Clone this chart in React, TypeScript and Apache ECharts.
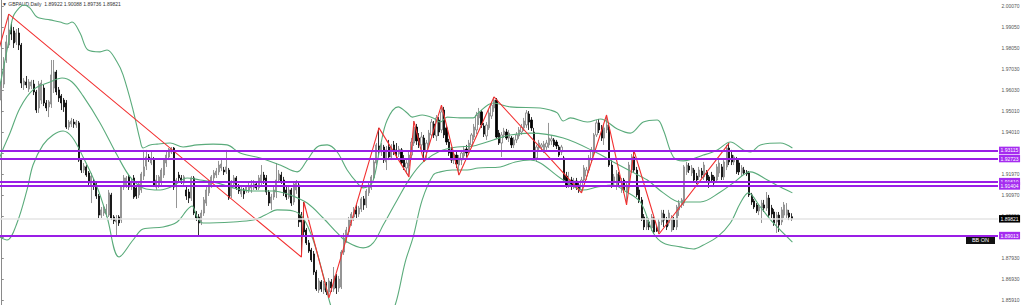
import React, { useEffect, useRef } from 'react';
import * as echarts from 'echarts';

const titleText = '▼ GBPAUD,Daily  1.89922 1.90088 1.89736 1.89821';
const yTicks = [2.0007, 1.9905, 1.9805, 1.9703, 1.9603, 1.9501, 1.9401, 1.9299, 1.9197, 1.9097, 1.8995, 1.8893, 1.8793, 1.8693, 1.8591];
// tick labels that are not hidden behind the price tags
const yTickLabels = [2.0007, 1.9905, 1.9805, 1.9703, 1.9603, 1.9501, 1.9401, 1.9197, 1.9097, 1.8995, 1.8793, 1.8693, 1.8591];
const levels = [1.93115, 1.92723, 1.9161, 1.91404, 1.89013];
const currentPrice = 1.89821;
const SLOTS = 399;

// [open, close, low, high]
const ohlc: number[][] = [
  [1.9554,1.9641,1.9492,1.9675], // 0
  [1.9631,1.9737,1.9612,1.9761],
  [1.9747,1.9834,1.9733,1.9867],
  [1.9819,1.9891,1.9805,1.9968],
  [1.9891,1.9872,1.9843,1.9930],
  [1.9887,1.9829,1.9805,1.9906], // 5
  [1.9834,1.9877,1.9819,1.9896],
  [1.9877,1.9819,1.9795,1.9901],
  [1.9819,1.9636,1.9612,1.9829],
  [1.9627,1.9646,1.9603,1.9660],
  [1.9641,1.9627,1.9612,1.9670], // 10
  [1.9607,1.9641,1.9593,1.9655],
  [1.9622,1.9641,1.9607,1.9651],
  [1.9631,1.9593,1.9578,1.9651],
  [1.9593,1.9506,1.9492,1.9603],
  [1.9516,1.9631,1.9492,1.9646], // 15
  [1.9554,1.9636,1.9535,1.9651],
  [1.9612,1.9540,1.9525,1.9627],
  [1.9540,1.9516,1.9501,1.9554],
  [1.9521,1.9545,1.9472,1.9554],
  [1.9535,1.9675,1.9516,1.9747], // 20
  [1.9612,1.9689,1.9588,1.9747],
  [1.9689,1.9593,1.9578,1.9699],
  [1.9603,1.9564,1.9545,1.9617],
  [1.9574,1.9540,1.9506,1.9583],
  [1.9554,1.9521,1.9497,1.9564], // 25
  [1.9540,1.9424,1.9415,1.9554],
  [1.9424,1.9448,1.9410,1.9458],
  [1.9439,1.9453,1.9424,1.9468],
  [1.9448,1.9439,1.9420,1.9463],
  [1.9434,1.9448,1.9420,1.9458], // 30
  [1.9444,1.9265,1.9256,1.9453],
  [1.9265,1.9217,1.9203,1.9275],
  [1.9217,1.9236,1.9203,1.9251],
  [1.9232,1.9193,1.9184,1.9241],
  [1.9203,1.9155,1.9140,1.9212], // 35
  [1.9145,1.9188,1.9058,1.9203],
  [1.9164,1.9140,1.9121,1.9174],
  [1.9150,1.9092,1.9078,1.9159],
  [1.9092,1.9000,1.8986,1.9102],
  [1.9000,1.9025,1.8986,1.9039], // 40
  [1.9010,1.9039,1.8996,1.9049],
  [1.9005,1.9029,1.8991,1.9053],
  [1.9000,1.9107,1.8991,1.9121],
  [1.9097,1.8986,1.8976,1.9107],
  [1.8991,1.8972,1.8957,1.9000], // 45
  [1.8967,1.8981,1.8895,1.9000],
  [1.8991,1.8962,1.8948,1.9000],
  [1.8976,1.9135,1.8962,1.9145],
  [1.9135,1.9179,1.9121,1.9193],
  [1.9145,1.9179,1.9131,1.9188], // 50
  [1.9184,1.9135,1.9121,1.9193],
  [1.9140,1.9159,1.9121,1.9179],
  [1.9179,1.9087,1.9078,1.9193],
  [1.9131,1.9092,1.9078,1.9145],
  [1.9097,1.9150,1.9082,1.9159], // 55
  [1.9121,1.9198,1.9107,1.9208],
  [1.9188,1.9232,1.9169,1.9314],
  [1.9236,1.9280,1.9217,1.9314],
  [1.9280,1.9275,1.9256,1.9294],
  [1.9251,1.9275,1.9241,1.9304], // 60
  [1.9265,1.9145,1.9135,1.9280],
  [1.9135,1.9169,1.9121,1.9193],
  [1.9145,1.9184,1.9131,1.9193],
  [1.9159,1.9217,1.9145,1.9227],
  [1.9193,1.9265,1.9179,1.9275], // 65
  [1.9251,1.9289,1.9232,1.9304],
  [1.9280,1.9318,1.9265,1.9323],
  [1.9304,1.9323,1.9294,1.9328],
  [1.9323,1.9135,1.9121,1.9328],
  [1.9145,1.9169,1.9034,1.9179], // 70
  [1.9193,1.9179,1.9159,1.9208],
  [1.9179,1.9169,1.9150,1.9193],
  [1.9155,1.9184,1.9140,1.9193],
  [1.9121,1.9092,1.9073,1.9140],
  [1.9111,1.9082,1.9058,1.9126], // 75
  [1.9082,1.9179,1.9068,1.9188],
  [1.9179,1.9010,1.9000,1.9188],
  [1.9010,1.8986,1.8972,1.9020],
  [1.8991,1.8962,1.8904,1.9005],
  [1.8962,1.9010,1.8952,1.9025], // 80
  [1.9010,1.9073,1.8996,1.9087],
  [1.9058,1.9121,1.9044,1.9135],
  [1.9107,1.9155,1.9092,1.9169],
  [1.9145,1.9184,1.9131,1.9193],
  [1.9179,1.9203,1.9164,1.9217], // 85
  [1.9193,1.9212,1.9179,1.9227],
  [1.9208,1.9241,1.9193,1.9261],
  [1.9227,1.9246,1.9212,1.9265],
  [1.9217,1.9208,1.9193,1.9232],
  [1.9208,1.9232,1.9198,1.9314], // 90
  [1.9217,1.9082,1.9073,1.9227],
  [1.9092,1.9159,1.9082,1.9169],
  [1.9150,1.9179,1.9140,1.9193],
  [1.9179,1.9131,1.9121,1.9188],
  [1.9140,1.9116,1.9102,1.9150], // 95
  [1.9102,1.9121,1.9087,1.9145],
  [1.9121,1.9102,1.9078,1.9131],
  [1.9116,1.9135,1.9107,1.9145],
  [1.9121,1.9140,1.9107,1.9155],
  [1.9131,1.9145,1.9107,1.9169], // 100
  [1.9131,1.9150,1.9121,1.9169],
  [1.9150,1.9131,1.9121,1.9159],
  [1.9131,1.9179,1.9121,1.9193],
  [1.9159,1.9193,1.9145,1.9241],
  [1.9193,1.9169,1.9150,1.9208], // 105
  [1.9179,1.9111,1.9097,1.9193],
  [1.9111,1.9058,1.9044,1.9121],
  [1.9058,1.9087,1.9025,1.9102],
  [1.9087,1.9121,1.9073,1.9140],
  [1.9111,1.9169,1.9082,1.9251], // 110
  [1.9169,1.9198,1.9155,1.9217],
  [1.9193,1.9164,1.9150,1.9208],
  [1.9169,1.9107,1.9092,1.9184],
  [1.9121,1.9087,1.9073,1.9140],
  [1.9087,1.9121,1.9078,1.9135], // 115
  [1.9121,1.9058,1.9044,1.9131],
  [1.9063,1.9150,1.9049,1.9164],
  [1.9121,1.9155,1.9102,1.9169],
  [1.9145,1.8967,1.8943,1.9155],
  [1.9000,1.8967,1.8798,1.9015], // 120
  [1.8976,1.8919,1.8904,1.9063],
  [1.8928,1.8866,1.8856,1.8938],
  [1.8866,1.8827,1.8818,1.8880],
  [1.8832,1.8784,1.8774,1.8842],
  [1.8813,1.8726,1.8712,1.8827], // 125
  [1.8726,1.8644,1.8635,1.8736],
  [1.8639,1.8683,1.8625,1.8697],
  [1.8678,1.8644,1.8630,1.8687],
  [1.8639,1.8668,1.8620,1.8683],
  [1.8668,1.8630,1.8615,1.8678], // 130
  [1.8630,1.8683,1.8601,1.8697],
  [1.8678,1.8649,1.8630,1.8692],
  [1.8644,1.8707,1.8630,1.8750],
  [1.8707,1.8649,1.8620,1.8716],
  [1.8649,1.8692,1.8630,1.8707], // 135
  [1.8654,1.8822,1.8644,1.8832],
  [1.8822,1.8890,1.8808,1.8914],
  [1.8880,1.8928,1.8866,1.8943],
  [1.8919,1.8976,1.8904,1.8991],
  [1.8962,1.9005,1.8948,1.9015], // 140
  [1.8991,1.9025,1.8972,1.9039],
  [1.9025,1.9005,1.8986,1.9049],
  [1.9005,1.9034,1.8991,1.9044],
  [1.9029,1.9078,1.9015,1.9087],
  [1.9078,1.9049,1.9025,1.9092], // 145
  [1.9049,1.9116,1.9034,1.9126],
  [1.9107,1.9145,1.9092,1.9155],
  [1.9131,1.9184,1.9121,1.9193],
  [1.9179,1.9256,1.9169,1.9265],
  [1.9251,1.9338,1.9241,1.9347], // 150
  [1.9333,1.9304,1.9289,1.9420],
  [1.9304,1.9333,1.9285,1.9347],
  [1.9328,1.9265,1.9251,1.9338],
  [1.9256,1.9314,1.9217,1.9333],
  [1.9328,1.9280,1.9265,1.9362], // 155
  [1.9280,1.9328,1.9265,1.9342],
  [1.9338,1.9304,1.9289,1.9357],
  [1.9314,1.9294,1.9275,1.9347],
  [1.9294,1.9318,1.9280,1.9333],
  [1.9314,1.9251,1.9241,1.9323], // 160
  [1.9265,1.9232,1.9217,1.9289],
  [1.9227,1.9251,1.9198,1.9265],
  [1.9236,1.9289,1.9184,1.9304],
  [1.9289,1.9352,1.9275,1.9371],
  [1.9347,1.9424,1.9333,1.9453], // 165
  [1.9424,1.9357,1.9338,1.9439],
  [1.9371,1.9338,1.9323,1.9395],
  [1.9338,1.9376,1.9314,1.9400],
  [1.9371,1.9304,1.9256,1.9386],
  [1.9304,1.9347,1.9275,1.9362], // 170
  [1.9342,1.9395,1.9328,1.9410],
  [1.9386,1.9448,1.9371,1.9463],
  [1.9439,1.9386,1.9371,1.9453],
  [1.9381,1.9468,1.9357,1.9482],
  [1.9458,1.9400,1.9381,1.9472], // 175
  [1.9410,1.9497,1.9395,1.9530],
  [1.9506,1.9386,1.9371,1.9521],
  [1.9420,1.9352,1.9338,1.9434],
  [1.9352,1.9299,1.9285,1.9367],
  [1.9314,1.9265,1.9251,1.9328], // 180
  [1.9265,1.9294,1.9246,1.9314],
  [1.9289,1.9246,1.9227,1.9304],
  [1.9241,1.9275,1.9193,1.9289],
  [1.9265,1.9299,1.9241,1.9314],
  [1.9285,1.9318,1.9265,1.9333], // 185
  [1.9318,1.9299,1.9280,1.9338],
  [1.9304,1.9347,1.9289,1.9362],
  [1.9338,1.9386,1.9323,1.9395],
  [1.9376,1.9424,1.9362,1.9439],
  [1.9410,1.9482,1.9390,1.9497], // 190
  [1.9468,1.9497,1.9434,1.9516],
  [1.9497,1.9434,1.9420,1.9506],
  [1.9429,1.9390,1.9376,1.9444],
  [1.9381,1.9434,1.9362,1.9448],
  [1.9420,1.9492,1.9410,1.9506], // 195
  [1.9477,1.9530,1.9463,1.9545],
  [1.9516,1.9554,1.9497,1.9569],
  [1.9554,1.9376,1.9367,1.9564],
  [1.9395,1.9347,1.9338,1.9410],
  [1.9347,1.9386,1.9280,1.9400], // 200
  [1.9386,1.9405,1.9371,1.9420],
  [1.9400,1.9371,1.9362,1.9415],
  [1.9371,1.9395,1.9352,1.9410],
  [1.9371,1.9338,1.9323,1.9381],
  [1.9338,1.9362,1.9323,1.9376], // 205
  [1.9362,1.9386,1.9347,1.9400],
  [1.9381,1.9410,1.9367,1.9424],
  [1.9400,1.9424,1.9386,1.9439],
  [1.9420,1.9453,1.9405,1.9468],
  [1.9434,1.9492,1.9420,1.9506], // 210
  [1.9487,1.9448,1.9410,1.9501],
  [1.9458,1.9420,1.9405,1.9472],
  [1.9400,1.9275,1.9265,1.9420],
  [1.9275,1.9328,1.9256,1.9338],
  [1.9323,1.9347,1.9304,1.9362], // 215
  [1.9328,1.9338,1.9314,1.9347],
  [1.9314,1.9342,1.9299,1.9357],
  [1.9328,1.9347,1.9314,1.9362],
  [1.9338,1.9371,1.9323,1.9444],
  [1.9357,1.9367,1.9338,1.9386], // 220
  [1.9362,1.9338,1.9328,1.9371],
  [1.9352,1.9333,1.9318,1.9362],
  [1.9328,1.9289,1.9280,1.9338],
  [1.9304,1.9328,1.9289,1.9338],
  [1.9275,1.9169,1.9155,1.9285], // 225
  [1.9188,1.9145,1.9131,1.9208],
  [1.9145,1.9169,1.9131,1.9208],
  [1.9169,1.9140,1.9121,1.9184],
  [1.9140,1.9164,1.9126,1.9179],
  [1.9164,1.9135,1.9121,1.9179], // 230
  [1.9145,1.9121,1.9107,1.9159],
  [1.9121,1.9169,1.9107,1.9184],
  [1.9169,1.9227,1.9159,1.9241],
  [1.9188,1.9217,1.9169,1.9232],
  [1.9217,1.9275,1.9203,1.9289], // 235
  [1.9265,1.9314,1.9251,1.9328],
  [1.9299,1.9386,1.9289,1.9395],
  [1.9386,1.9444,1.9376,1.9458],
  [1.9444,1.9410,1.9395,1.9463],
  [1.9420,1.9371,1.9357,1.9434], // 240
  [1.9371,1.9420,1.9338,1.9439],
  [1.9410,1.9434,1.9395,1.9482],
  [1.9424,1.9241,1.9232,1.9434],
  [1.9241,1.9145,1.9131,1.9265],
  [1.9155,1.9184,1.9140,1.9198], // 245
  [1.9140,1.9198,1.9121,1.9217],
  [1.9193,1.9159,1.9140,1.9208],
  [1.9121,1.9159,1.9107,1.9179],
  [1.9169,1.9121,1.9107,1.9179],
  [1.9111,1.9145,1.9049,1.9155], // 250
  [1.9135,1.9241,1.9121,1.9256],
  [1.9217,1.9280,1.9203,1.9294],
  [1.9280,1.9217,1.9208,1.9309],
  [1.9217,1.9097,1.9087,1.9232],
  [1.9121,1.9073,1.9058,1.9135], // 255
  [1.9073,1.8981,1.8972,1.9087],
  [1.8991,1.8943,1.8928,1.9005],
  [1.8943,1.8976,1.8928,1.8991],
  [1.8967,1.8943,1.8928,1.8986],
  [1.8938,1.8991,1.8923,1.9005], // 260
  [1.8976,1.8919,1.8909,1.8991],
  [1.8938,1.8923,1.8919,1.8952],
  [1.8919,1.8967,1.8909,1.8981],
  [1.8967,1.9010,1.8952,1.9025],
  [1.9005,1.8976,1.8943,1.9025], // 265
  [1.8976,1.8943,1.8928,1.8991],
  [1.8962,1.9010,1.8948,1.9025],
  [1.8928,1.8986,1.8919,1.9000],
  [1.8976,1.8943,1.8928,1.8991],
  [1.8943,1.9039,1.8928,1.9049], // 270
  [1.9025,1.9058,1.8996,1.9073],
  [1.9049,1.9073,1.9034,1.9082],
  [1.9058,1.9232,1.9044,1.9241],
  [1.9208,1.9241,1.9193,1.9256],
  [1.9236,1.9217,1.9203,1.9251], // 275
  [1.9203,1.9227,1.9188,1.9241],
  [1.9217,1.9169,1.9155,1.9227],
  [1.9188,1.9169,1.9150,1.9203],
  [1.9184,1.9217,1.9169,1.9232],
  [1.9212,1.9193,1.9179,1.9227], // 280
  [1.9184,1.9241,1.9169,1.9256],
  [1.9208,1.9169,1.9155,1.9217],
  [1.9184,1.9155,1.9131,1.9193],
  [1.9193,1.9169,1.9159,1.9208],
  [1.9184,1.9155,1.9135,1.9193], // 285
  [1.9169,1.9232,1.9155,1.9246],
  [1.9203,1.9251,1.9184,1.9265],
  [1.9232,1.9184,1.9169,1.9246],
  [1.9184,1.9256,1.9169,1.9265],
  [1.9232,1.9323,1.9217,1.9338], // 290
  [1.9323,1.9256,1.9241,1.9347],
  [1.9289,1.9256,1.9241,1.9314],
  [1.9256,1.9280,1.9241,1.9289],
  [1.9265,1.9208,1.9198,1.9280],
  [1.9251,1.9208,1.9193,1.9265], // 295
  [1.9203,1.9227,1.9188,1.9241],
  [1.9217,1.9203,1.9193,1.9232],
  [1.9208,1.9198,1.9188,1.9217],
  [1.9203,1.9097,1.9087,1.9212],
  [1.9097,1.9063,1.9049,1.9107], // 300
  [1.9068,1.9039,1.9029,1.9078],
  [1.9049,1.9020,1.9010,1.9058],
  [1.9020,1.9039,1.9000,1.9049],
  [1.9034,1.9058,1.8962,1.9073],
  [1.9049,1.9034,1.9015,1.9073], // 305
  [1.9034,1.9082,1.9020,1.9111],
  [1.9082,1.9000,1.8991,1.9097],
  [1.9034,1.9005,1.8986,1.9049],
  [1.9015,1.8962,1.8948,1.9029],
  [1.8967,1.9000,1.8914,1.9015], // 310
  [1.9000,1.8952,1.8919,1.9015],
  [1.8967,1.9025,1.8952,1.9039],
  [1.9000,1.9049,1.8986,1.9063],
  [1.9000,1.9025,1.8986,1.9058],
  [1.9010,1.8991,1.8976,1.9025], // 315
  [1.89922,1.89821,1.89736,1.90088], // 316
];

// ZigZag vertices [bar index, price]
const zigzag: number[][] = [
  [-3, 1.9710], [3, 1.9968], [120, 1.8798], [121, 1.9063], [131, 1.8601], [151, 1.9420],
  [163, 1.9184], [165, 1.9453], [169, 1.9256], [176, 1.9530], [183, 1.9193], [197, 1.9569],
  [232, 1.9107], [242, 1.9482], [250, 1.9049], [253, 1.9309], [263, 1.8909], [291, 1.9347],
];

// Bollinger bands [bar index, price]
const bbUpper: number[][] = [
  [-1.3, 1.9578], [2.7, 1.9819], [4.7, 1.9954], [7.5, 2.0002], [9.1, 2.0012], [11.5, 1.9997],
  [14.3, 1.9954], [19.5, 1.9940], [23.5, 1.9930], [26.3, 1.9920], [28.3, 1.9930], [31.5, 1.9877],
  [34.7, 1.9795], [39.5, 1.9786], [42.3, 1.9795], [46.3, 1.9737], [48.7, 1.9675], [52.7, 1.9506],
  [55.5, 1.9362], [56.7, 1.9323], [59.5, 1.9338], [62.3, 1.9342], [67.5, 1.9347], [72.7, 1.9328],
  [78.3, 1.9338], [84.7, 1.9342], [90.3, 1.9338], [95.5, 1.9299], [103.5, 1.9275], [111.5, 1.9241],
  [118.3, 1.9208], [122.3, 1.9265], [126.3, 1.9328], [130.3, 1.9338], [134.3, 1.9304], [138.3, 1.9217],
  [142.3, 1.9155], [144.7, 1.9131], [148.3, 1.9155], [151.5, 1.9328], [154.3, 1.9458], [158.7, 1.9521],
  [162.3, 1.9492], [164.3, 1.9472], [168.3, 1.9482], [172.7, 1.9468], [175.5, 1.9448], [178.3, 1.9472],
  [183.5, 1.9468], [188.7, 1.9468], [190.7, 1.9492], [196.7, 1.9540], [203.5, 1.9521], [215.5, 1.9516],
  [219.5, 1.9506], [222.3, 1.9492], [224.7, 1.9453], [227.5, 1.9468], [234.3, 1.9448], [239.5, 1.9463],
  [246.3, 1.9415], [251.5, 1.9395], [256.7, 1.9448], [262.3, 1.9458], [264.7, 1.9410], [268.7, 1.9280],
  [272.7, 1.9261], [280.7, 1.9289], [286.3, 1.9314], [291.5, 1.9352], [296.7, 1.9314], [299.5, 1.9304],
  [303.5, 1.9338], [311.5, 1.9347], [316.3, 1.9323],
];
const bbMiddle: number[][] = [
  [-1.3, 1.9217], [-0.5, 1.9280], [3.5, 1.9395], [7.5, 1.9516], [12.7, 1.9603], [19.5, 1.9641],
  [24.3, 1.9660], [28.3, 1.9641], [32.7, 1.9574], [39.5, 1.9444], [46.3, 1.9289], [51.5, 1.9184],
  [56.7, 1.9131], [63.5, 1.9121], [68.7, 1.9140], [74.3, 1.9179], [79.5, 1.9169], [86.3, 1.9155],
  [92.7, 1.9131], [100.7, 1.9116], [108.7, 1.9116], [115.5, 1.9097], [122.3, 1.9058], [128.7, 1.8986],
  [134.3, 1.8914], [138.3, 1.8870], [144.7, 1.8842], [148.7, 1.8866], [152.7, 1.8952], [158.3, 1.9073],
  [163.5, 1.9179], [168.7, 1.9256], [175.5, 1.9309], [182.3, 1.9328], [188.7, 1.9333], [196.7, 1.9362],
  [203.5, 1.9386], [211.5, 1.9395], [224.7, 1.9371], [238.3, 1.9299], [244.7, 1.9256], [251.5, 1.9212],
  [258.3, 1.9169], [264.7, 1.9107], [271.5, 1.9063], [279.5, 1.9063], [287.5, 1.9111], [292.7, 1.9155],
  [299.5, 1.9208], [306.3, 1.9169], [311.5, 1.9135], [316.3, 1.9107],
];
const bbLower: number[][] = [
  [-1.3, 1.8899], [2.3, 1.8880], [6.3, 1.8962], [10.3, 1.9121], [12.7, 1.9241], [16.7, 1.9338],
  [20.7, 1.9386], [24.7, 1.9405], [28.3, 1.9376], [32.7, 1.9280], [38.3, 1.9135], [42.3, 1.8991],
  [47.1, 1.8798], [52.7, 1.8880], [56.7, 1.8933], [64.7, 1.8943], [70.3, 1.8967], [74.3, 1.9025],
  [76.3, 1.9044], [78.3, 1.8991], [80.7, 1.8962], [92.7, 1.8967], [100.7, 1.8976], [105.5, 1.9000],
  [110.3, 1.9025], [116.7, 1.9020], [120.7, 1.8986], [124.7, 1.8880], [128.7, 1.8712], [132.7, 1.8533],
  [139.5, 1.8423], [147.5, 1.8399], [153.5, 1.8471], [157.5, 1.8567], [161.5, 1.8774], [164.7, 1.8895],
  [168.3, 1.9073], [172.7, 1.9193], [175.5, 1.9208], [180.3, 1.9217], [186.3, 1.9217], [190.7, 1.9227],
  [199.5, 1.9232], [205.5, 1.9256], [211.5, 1.9265], [224.7, 1.9169], [232.7, 1.9121], [238.3, 1.9135],
  [244.7, 1.9145], [248.7, 1.9121], [255.5, 1.9063], [260.7, 1.8914], [264.7, 1.8866], [271.5, 1.8847],
  [276.7, 1.8837], [280.7, 1.8856], [286.3, 1.8895], [291.5, 1.8962], [295.5, 1.9058], [298.7, 1.9107],
  [303.5, 1.9039], [308.7, 1.8962], [316.3, 1.8870],
];

const FONT = 'Liberation Sans, Arial, sans-serif';

export default function App() {
  const ref = useRef<HTMLDivElement>(null);
  useEffect(() => {
    const chart = echarts.init(ref.current!, null, { renderer: 'svg' });
    const cats = Array.from({ length: SLOTS }, (_, i) => String(i));
    const bandSeries = (data: number[][]) => ({
      type: 'line', xAxisIndex: 1, yAxisIndex: 0, data, showSymbol: false, symbol: 'none',
      smooth: 0.35, clip: true, z: 3, silent: true,
      lineStyle: { color: '#5aab7b', width: 1.1 },
    });
    const levelLabel = (bg: string) => ({
      show: true, position: 'end', distance: 1,
      formatter: (p: any) => Number(p.value).toFixed(5),
      backgroundColor: bg, color: '#ffffff', fontSize: 5, fontFamily: FONT,
      padding: [1, 1.5, 0.5, 1.5], lineHeight: 6,
    });
    chart.setOption({
      animation: false,
      backgroundColor: '#ffffff',
      grid: { left: 0, right: 26, top: 0, bottom: 0, containLabel: false },
      xAxis: [
        { type: 'category', data: cats, show: false, boundaryGap: true },
        { type: 'value', min: -0.5, max: SLOTS - 0.5, show: false },
      ],
      yAxis: {
        type: 'value', position: 'right', min: 1.8567, max: 2.00359, scale: true,
        splitLine: { show: false },
        axisLine: { show: true, lineStyle: { color: '#8a8a8a', width: 1 } },
        axisTick: { show: true, length: 2.5, customValues: yTicks, lineStyle: { color: '#8a8a8a' } },
        axisLabel: {
          show: true, customValues: yTickLabels, fontSize: 5, color: '#555', fontFamily: FONT, margin: 3.5,
          formatter: (v: number) => v.toFixed(5),
        },
      },
      graphic: [
        { type: 'text', left: 2, top: 1.5, style: { text: titleText, fontSize: 5, fill: '#333', fontFamily: FONT } },
        {
          type: 'group', left: 966, top: 236, children: [
            { type: 'rect', shape: { x: 0, y: 0, width: 29, height: 8 }, style: { fill: '#111111' } },
            { type: 'text', style: { x: 14.5, y: 4.2, text: 'BB ON', fontSize: 5.5, fill: '#ffffff', fontFamily: FONT, align: 'center', verticalAlign: 'middle' } },
          ],
        },
      ],
      series: [
        {
          type: 'candlestick', xAxisIndex: 0, yAxisIndex: 0, data: ohlc, barWidth: 1.6, z: 2, silent: true,
          itemStyle: { color: '#ffffff', color0: '#000000', borderColor: '#7a7a7a', borderColor0: '#000000', borderWidth: 0.8 },
          markLine: {
            symbol: ['none', 'none'], silent: true, animation: false, precision: 5,
            data: [
              { yAxis: currentPrice, lineStyle: { color: '#e4e4e4', width: 1.5, type: 'solid' }, label: levelLabel('#000000') },
              ...levels.map((v) => ({ yAxis: v, lineStyle: { color: '#9a1ee6', width: 2, type: 'solid' }, label: levelLabel('#a52cf0') })),
            ],
          },
        },
        bandSeries(bbUpper),
        bandSeries(bbMiddle),
        bandSeries(bbLower),
        {
          type: 'line', xAxisIndex: 1, yAxisIndex: 0, data: zigzag, showSymbol: false, symbol: 'none',
          clip: true, z: 4, silent: true, lineStyle: { color: '#f23030', width: 1.1 },
        },
      ],
    });
    return () => chart.dispose();
  }, []);
  return <div ref={ref} style={{ position: 'absolute', left: 0, top: 0, width: 1024, height: 305 }} />;
}
